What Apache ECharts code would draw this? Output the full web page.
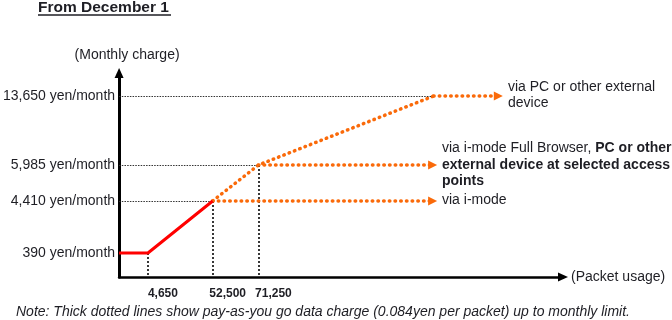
<!DOCTYPE html>
<html>
<head>
<meta charset="utf-8">
<script src="https://cdn.jsdelivr.net/npm/echarts@6/dist/echarts.min.js"></script>
<style>
html,body{margin:0;padding:0;background:#fff;}
#chart{width:672px;height:320px;}
</style>
</head>
<body>
<div id="chart"></div>
<script>
// ---- Data ----
const packetBreaks = [4650, 52500, 71250];
const packetTickLabels = ['4,650', '52,500', '71,250'];
const chargeLevels = [390, 4410, 5985, 13650];
const chargeTickLabels = ['390 yen/month', '4,410 yen/month', '5,985 yen/month', '13,650 yen/month'];

// Flat-rate part (solid red): packets -> yen
const baseX = [0, 4650, 52500];
const baseY = [390, 390, 4410];

// Pay-as-you-go continuation up to PC limit (thick dotted)
const paygX = [52500, 71250, 162500];
const paygY = [4410, 5985, 13650];

// Diagram is not drawn to scale: anchor values and their schematic axis positions
const xScaleVal = [0, 4650, 52500, 71250, 162500];
const xScalePos = [0, 29, 94, 140, 316];
const yScaleVal = [0, 390, 4410, 5985, 13650];
const yScalePos = [0, 24, 76, 112, 181];

// Labels of the arrows
const arrowLabels = ['via PC or other external\ndevice', 'via i-mode Full Browser, PC or other external device at selected access points', 'via i-mode'];

function interp(v, vals, pos) {
  for (let i = 1; i < vals.length; i++) {
    if (v <= vals[i]) {
      const t = (v - vals[i - 1]) / (vals[i] - vals[i - 1]);
      return pos[i - 1] + t * (pos[i] - pos[i - 1]);
    }
  }
  const n = vals.length - 1;
  return pos[n] + (v - vals[n]) * (pos[n] - pos[n - 1]) / (vals[n] - vals[n - 1]);
}
const sx = v => interp(v, xScaleVal, xScalePos);
const sy = v => interp(v, yScaleVal, yScalePos);

const X_MAX = 446, Y_MAX = 204;
const ARROW_END_SHORT = 315;
const ARROW_END_LONG = 381;

const FONT = "'Liberation Sans', Arial, sans-serif";
const TXT = '#1e1e24';
const ORANGE = '#FA6A0A';

const orangeDots = { color: ORANGE, width: 3.5, type: [0.5, 5.2], cap: 'round' };
const guideH = { color: '#333', width: 1.2, type: [1.5, 1.2] };
const guideV = { color: '#222', width: 1.8, type: [2, 2] };

function seg(x1, y1, x2, y2, ls) {
  return [{ coord: [x1, y1], lineStyle: ls }, { coord: [x2, y2] }];
}

const guideLines = [
  seg(0, sy(4410), sx(52500), sy(4410), guideH),
  seg(0, sy(5985), sx(71250), sy(5985), guideH),
  seg(0, sy(13650), sx(162500), sy(13650), guideH),
  seg(sx(4650), sy(390), sx(4650), 0, guideV),
  seg(sx(52500), sy(4410), sx(52500), 0, guideV),
  seg(sx(71250), sy(5985), sx(71250), 0, guideV)
];

const arrowLines = [
  seg(sx(162500), sy(13650), ARROW_END_LONG, sy(13650), orangeDots),
  seg(sx(71250), sy(5985), ARROW_END_SHORT, sy(5985), orangeDots),
  seg(sx(52500), sy(4410), ARROW_END_SHORT, sy(4410), orangeDots)
];

const chart = echarts.init(document.getElementById('chart'), null, { renderer: 'canvas' });

const xLabelPos = packetBreaks.map(sx);
const yLabelPos = chargeLevels.map(sy);

chart.setOption({
  animation: false,
  backgroundColor: '#fff',
  textStyle: { fontFamily: FONT },
  grid: { left: 117, top: 73, width: X_MAX, height: Y_MAX, containLabel: false },
  xAxis: {
    type: 'value', min: 0, max: X_MAX,
    splitLine: { show: false },
    axisTick: { show: false },
    axisLine: { show: true, onZero: false, symbol: ['none', 'triangle'], symbolSize: [9, 10],
      lineStyle: { color: '#000', width: 2.5 } },
    axisLabel: {
      customValues: xLabelPos,
      formatter: v => { const i = xLabelPos.findIndex(p => Math.abs(p - v) < 0.01); return i >= 0 ? packetTickLabels[i] : ''; },
      color: TXT, fontSize: 12, fontWeight: 'bold', fontFamily: FONT, margin: 11, padding: [0, 0, 0, 30], align: 'center'
    },
    name: '(Packet usage)', nameLocation: 'end', nameGap: 8,
    nameTextStyle: { color: TXT, fontSize: 14, fontFamily: FONT, verticalAlign: 'middle', padding: [7, 0, 0, 0] }
  },
  yAxis: {
    type: 'value', min: 0, max: Y_MAX,
    splitLine: { show: false },
    axisTick: { show: false },
    axisLine: { show: true, onZero: false, symbol: ['none', 'triangle'], symbolSize: [9, 10],
      lineStyle: { color: '#000', width: 3 } },
    axisLabel: {
      customValues: yLabelPos,
      formatter: v => { const i = yLabelPos.findIndex(p => Math.abs(p - v) < 0.01); return i >= 0 ? chargeTickLabels[i] : ''; },
      color: TXT, fontSize: 14, fontFamily: FONT, margin: 4
    },
    name: '(Monthly charge)', nameLocation: 'end', nameGap: 11,
    nameTextStyle: { color: TXT, fontSize: 14, fontFamily: FONT, padding: [0, 0, 0, 16] }
  },
  series: [
    {
      name: 'guides', type: 'line', data: [], silent: true,
      markLine: { silent: true, symbol: ['none', 'none'], label: { show: false }, animation: false, data: guideLines }
    },
    {
      name: 'flat', type: 'line', silent: true, symbol: 'none', z: 5,
      lineStyle: { color: '#FF0000', width: 3 },
      data: baseX.map((x, i) => [sx(x), sy(baseY[i])])
    },
    {
      name: 'payg', type: 'line', silent: true, symbol: 'none', z: 4,
      lineStyle: orangeDots,
      data: paygX.map((x, i) => [sx(x), sy(paygY[i])])
    },
    {
      name: 'arrows', type: 'line', data: [], silent: true, z: 4,
      markLine: { silent: true, symbol: ['none', 'triangle'], symbolSize: [9, 9], label: { show: false },
        itemStyle: { color: ORANGE }, animation: false, data: arrowLines }
    }
  ],
  graphic: [
    { type: 'text', x: 38, y: 7.5, style: { text: 'From December 1', font: 'bold 15.5px ' + FONT, fill: TXT, verticalAlign: 'middle' } },
    { type: 'line', shape: { x1: 38, y1: 15, x2: 171, y2: 15 }, style: { stroke: TXT, lineWidth: 1.3 } },
    { type: 'text', x: 508, y: 95, style: { text: arrowLabels[0], font: '14px ' + FONT, fill: TXT, verticalAlign: 'middle', lineHeight: 16 } },
    { type: 'text', x: 442, y: 165, style: {
        text: '{n|via i-mode Full Browser, }{b|PC or other}\n{b|external device at selected access}\n{b|points}',
        fill: TXT, verticalAlign: 'middle',
        rich: { n: { font: '14px ' + FONT, fill: TXT, lineHeight: 16.5 }, b: { font: 'bold 14px ' + FONT, fill: TXT, lineHeight: 16.5 } } } },
    { type: 'text', x: 442, y: 200, style: { text: arrowLabels[2], font: '14px ' + FONT, fill: TXT, verticalAlign: 'middle' } },
    { type: 'text', x: 16, y: 312, style: { text: 'Note: Thick dotted lines show pay-as-you go data charge (0.084yen per packet) up to monthly limit.',
        font: 'italic 14px ' + FONT, fill: TXT, verticalAlign: 'middle' } }
  ]
});
</script>
</body>
</html>
